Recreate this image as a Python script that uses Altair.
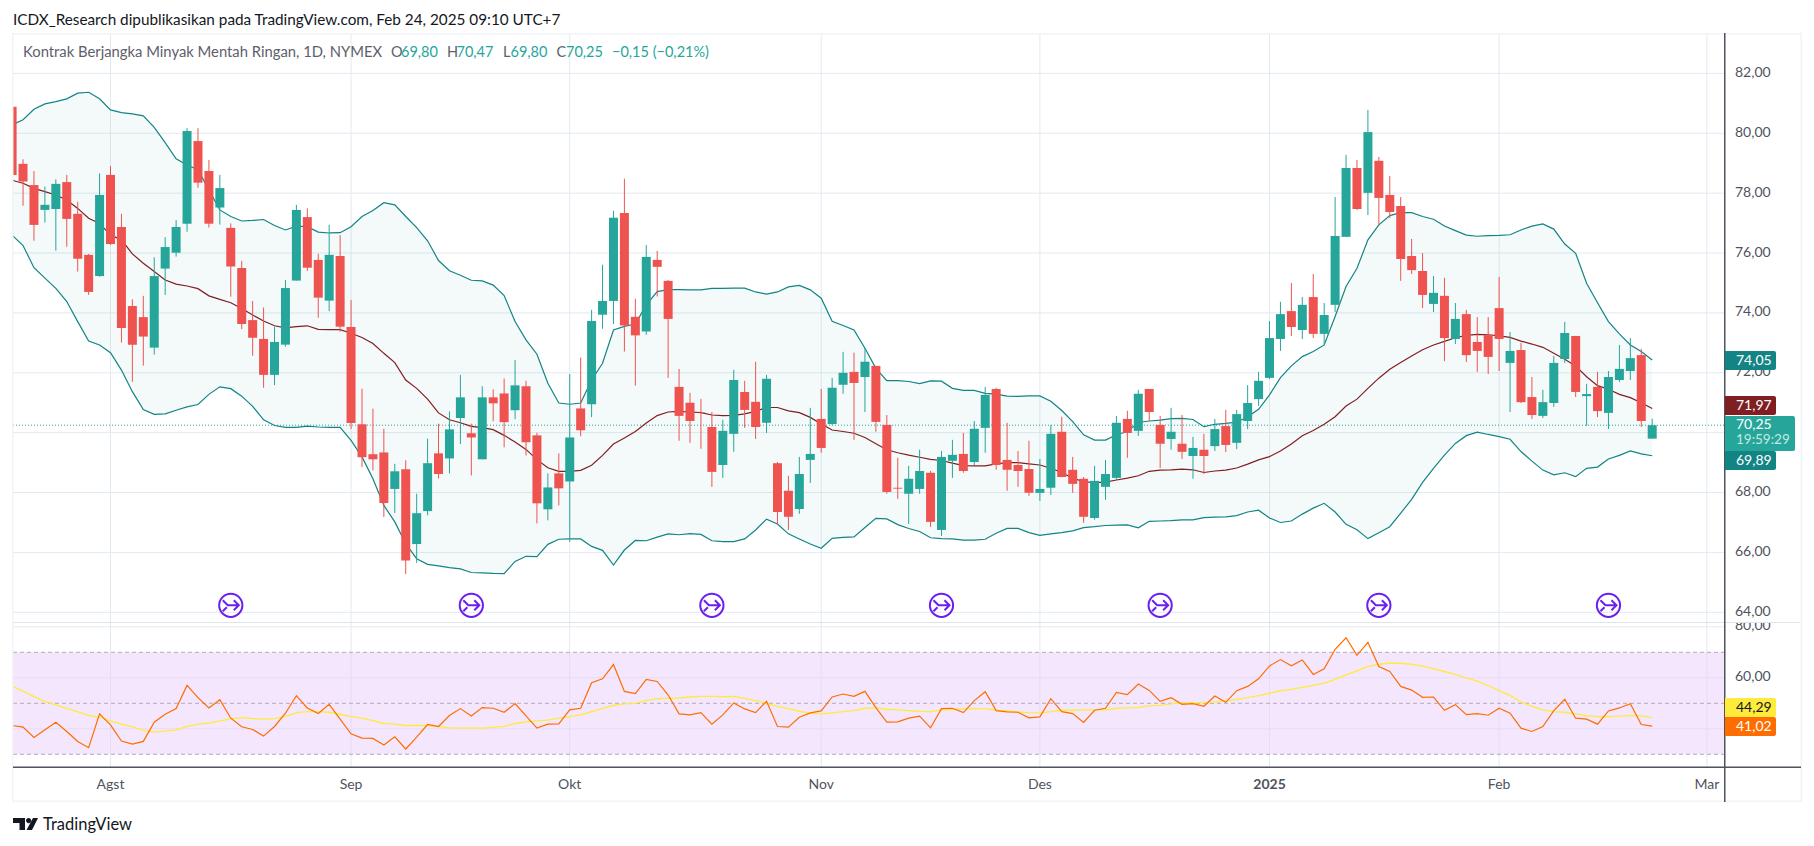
import altair as alt
import pandas as pd

open_prices = [80.89,78.98,78.27,77.44,77.47,78.37,77.31,75.94,75.23,78.61,
 76.87,74.23,73.86,72.84,75.48,76.01,76.98,79.74,78.74,77.52,
 76.84,75.50,73.76,73.13,71.93,72.94,75.08,77.20,75.77,74.41,
 75.90,73.53,70.28,69.28,69.34,68.12,68.78,66.28,67.38,69.31,
 69.14,70.49,69.98,69.11,71.18,71.31,70.75,71.55,69.91,67.44,
 68.64,68.37,70.81,70.95,73.94,74.40,77.34,73.87,73.38,75.77,
 75.07,71.53,71.00,70.68,70.19,68.92,69.96,71.36,71.03,70.33,
 68.98,68.06,67.45,69.09,70.46,70.29,71.60,72.03,71.86,72.23,
 70.26,68.16,67.96,68.12,68.66,66.75,69.06,69.29,69.02,70.16,
 71.46,69.09,68.92,68.79,67.99,68.16,70.03,68.76,68.46,67.15,
 68.19,68.49,70.46,70.06,71.46,70.26,69.79,69.63,69.22,69.43,
 69.55,70.22,69.66,70.39,71.12,71.83,73.13,74.06,73.43,74.53,
 73.30,74.27,76.54,78.84,78.01,79.08,77.94,77.57,75.90,75.40,
 74.30,74.57,73.13,73.96,73.03,73.26,74.16,72.33,72.76,71.19,
 70.56,70.99,72.46,73.23,71.22,71.53,70.66,71.76,72.06,72.59,69.80]
close_prices = [78.61,78.39,76.94,77.61,78.31,77.14,75.81,74.70,77.94,76.30,
 73.50,72.94,73.21,75.23,76.20,76.87,80.08,78.35,76.98,78.17,
 75.55,73.63,73.17,71.93,73.03,74.83,77.44,75.51,74.51,75.94,
 73.54,70.32,69.18,69.11,67.65,68.71,65.73,67.31,68.98,68.62,
 70.11,71.18,69.84,71.18,70.98,70.35,71.58,69.68,67.64,68.17,
 68.14,69.84,70.08,73.73,74.40,77.18,73.58,73.25,75.87,75.54,
 73.80,70.56,70.39,70.67,68.69,70.06,71.76,70.76,70.19,71.80,
 67.35,67.19,68.62,69.29,69.49,71.50,72.00,71.66,72.37,70.36,
 68.02,68.13,68.46,68.72,67.02,69.19,69.26,68.72,70.13,71.26,
 68.92,68.76,68.72,67.99,68.12,69.96,68.52,68.29,67.19,68.39,
 68.62,70.33,69.99,71.30,70.69,69.63,70.03,69.36,69.49,69.22,
 70.12,69.59,70.62,70.99,71.73,73.16,73.96,73.53,74.27,73.30,
 73.93,76.57,78.84,77.47,80.04,77.84,77.37,75.80,75.43,74.60,
 74.67,73.16,73.80,72.59,72.73,72.53,73.13,72.73,71.02,70.59,
 71.02,72.33,73.33,71.36,71.29,70.72,71.86,72.13,72.49,70.39,70.25]
high_prices = [80.89,79.13,78.74,78.22,78.46,78.61,77.71,75.97,78.66,78.91,
 77.31,74.45,74.57,75.86,76.53,77.10,80.17,80.17,79.11,78.61,
 76.99,75.74,74.40,74.18,73.54,75.10,77.61,77.49,75.97,76.94,
 76.60,74.43,71.47,70.80,70.13,68.96,69.08,67.96,69.80,70.30,
 70.71,71.93,70.30,71.55,71.45,71.81,72.43,71.73,70.00,68.64,
 69.31,71.96,72.51,74.10,75.61,77.41,78.48,74.47,76.27,76.07,
 75.10,72.13,71.33,71.13,70.69,70.43,72.10,71.73,72.37,71.93,
 69.02,68.56,69.19,70.83,71.46,71.83,72.70,72.67,72.83,72.23,
 70.59,69.16,68.89,69.43,68.72,69.39,69.76,69.99,70.39,71.53,
 71.50,70.33,69.39,69.73,69.12,70.26,70.53,69.19,68.52,68.89,
 69.09,70.56,70.73,71.43,71.46,70.56,70.83,70.59,69.86,69.96,
 70.46,70.76,70.76,71.59,72.03,73.73,74.37,75.00,74.53,75.30,
 74.33,77.87,79.28,79.11,80.78,79.21,78.57,77.87,76.47,76.00,
 75.23,75.17,74.33,74.10,73.86,73.86,75.20,73.36,73.00,71.86,
 71.43,72.56,73.70,73.23,71.63,72.03,72.06,72.93,73.16,72.80,70.47]
low_prices = [78.61,77.58,76.41,77.02,76.08,76.21,75.38,74.60,75.21,76.27,
 73.01,71.70,72.24,72.61,74.60,75.88,76.71,78.18,76.85,76.95,
 74.54,73.46,72.57,71.50,71.59,72.87,75.08,75.40,73.84,74.06,
 73.37,70.12,68.85,68.74,67.18,67.32,65.28,65.65,67.24,68.47,
 68.64,69.62,68.57,69.11,70.38,69.51,70.45,69.24,66.97,67.07,
 67.57,66.35,69.88,70.52,73.47,73.63,72.71,71.57,73.27,74.55,
 71.83,69.73,69.66,69.46,68.19,68.49,69.36,70.16,69.79,69.99,
 66.95,66.75,67.29,68.32,69.33,70.26,71.30,69.76,70.69,70.03,
 67.96,67.79,66.95,67.96,66.85,66.55,68.49,68.66,68.92,69.33,
 68.76,68.06,68.19,67.89,67.72,67.92,68.52,67.99,66.99,67.09,
 67.76,68.42,69.16,69.89,70.39,68.82,69.43,69.12,68.46,68.62,
 69.39,69.35,69.45,70.12,70.89,71.79,72.73,73.23,73.13,73.16,
 72.96,74.03,76.54,77.44,77.27,76.94,77.17,75.07,75.30,74.16,
 74.03,72.39,72.96,72.36,72.03,71.96,72.06,70.69,70.99,70.46,
 70.49,70.86,72.33,71.19,70.23,70.52,70.12,71.69,71.76,70.19,69.80]

bb_upper = [80.28,80.45,80.80,80.98,81.06,81.15,81.34,81.37,81.15,80.78,
 80.69,80.65,80.58,80.20,79.69,79.15,78.94,78.78,78.11,77.44,
 77.22,77.07,77.09,77.12,76.92,76.77,76.90,76.88,76.70,76.67,
 76.68,76.88,77.22,77.42,77.68,77.61,77.22,76.85,76.41,75.75,
 75.41,75.26,75.09,75.07,74.93,74.58,73.71,73.10,72.62,71.65,
 70.99,70.95,70.99,71.76,72.32,73.43,73.55,73.63,74.27,74.71,
 74.78,74.78,74.77,74.77,74.82,74.82,74.83,74.83,74.70,74.63,
 74.70,74.87,74.92,74.77,74.49,73.72,73.58,73.43,72.82,72.15,
 71.74,71.74,71.71,71.64,71.73,71.72,71.48,71.41,71.41,71.31,
 71.29,71.22,71.21,71.23,71.23,71.05,70.74,70.37,69.93,69.75,
 69.75,69.93,70.04,70.34,70.39,70.42,70.47,70.48,70.44,70.20,
 70.28,70.31,70.35,70.53,70.78,71.26,71.84,72.23,72.54,72.71,
 72.93,73.88,74.88,75.49,76.44,76.94,77.25,77.35,77.35,77.22,
 77.13,76.90,76.75,76.60,76.56,76.58,76.59,76.61,76.77,76.90,
 76.97,76.80,76.30,75.99,74.99,74.34,73.71,73.30,72.93,72.71,72.43]
bb_middle = [78.43,78.33,78.16,78.05,77.94,77.77,77.49,77.16,76.99,76.60,
 76.44,75.97,75.66,75.38,75.10,74.96,74.90,74.81,74.57,74.45,
 74.34,74.15,73.93,73.73,73.57,73.50,73.54,73.57,73.45,73.44,
 73.44,73.32,73.18,72.98,72.65,72.34,71.76,71.48,71.12,70.66,
 70.43,70.33,70.21,70.17,70.10,69.91,69.69,69.44,69.10,68.83,
 68.71,68.71,68.74,68.91,69.24,69.62,69.82,70.04,70.32,70.57,
 70.69,70.71,70.69,70.67,70.59,70.57,70.58,70.63,70.71,70.84,
 70.84,70.73,70.67,70.51,70.29,70.09,70.04,69.98,69.84,69.63,
 69.43,69.33,69.25,69.18,69.11,69.07,68.98,68.90,68.89,68.89,
 68.96,69.00,69.00,68.96,68.92,68.81,68.67,68.48,68.36,68.33,
 68.35,68.42,68.48,68.56,68.71,68.75,68.76,68.78,68.76,68.67,
 68.72,68.75,68.82,68.95,69.09,69.20,69.39,69.62,69.90,70.07,
 70.28,70.53,70.89,71.12,71.48,71.82,72.12,72.34,72.56,72.77,
 72.93,73.05,73.17,73.25,73.28,73.27,73.23,73.18,73.06,72.96,
 72.85,72.65,72.45,72.23,71.87,71.57,71.45,71.28,71.17,71.00,70.81]
bb_lower = [76.60,76.25,75.51,75.16,74.82,74.38,73.71,73.06,72.93,72.67,
 72.09,71.37,70.77,70.61,70.63,70.75,70.86,70.94,71.28,71.53,
 71.47,71.22,70.88,70.43,70.24,70.18,70.18,70.22,70.19,70.18,
 70.18,69.74,69.19,68.46,67.57,67.02,66.29,65.79,65.60,65.55,
 65.49,65.45,65.33,65.32,65.30,65.29,65.70,65.87,65.86,66.27,
 66.44,66.45,66.45,66.20,66.07,65.58,66.08,66.40,66.39,66.51,
 66.62,66.59,66.63,66.60,66.39,66.36,66.36,66.45,66.75,67.11,
 66.95,66.62,66.45,66.28,66.14,66.47,66.50,66.52,66.83,67.14,
 67.12,66.93,66.80,66.70,66.49,66.46,66.45,66.41,66.41,66.44,
 66.64,66.80,66.80,66.66,66.57,66.62,66.66,66.72,66.83,66.86,
 66.90,66.91,66.92,66.82,67.04,67.05,67.06,67.09,67.09,67.16,
 67.18,67.19,67.23,67.35,67.41,67.15,67.00,67.05,67.28,67.48,
 67.64,67.35,66.94,66.76,66.46,66.66,66.86,67.31,67.77,68.34,
 68.81,69.25,69.64,69.90,70.02,69.94,69.87,69.78,69.37,69.05,
 68.75,68.59,68.66,68.53,68.81,68.85,69.12,69.24,69.39,69.29,69.23]

rsi_values = [41.30,40.65,36.62,39.61,42.60,38.96,35.06,32.60,45.84,41.56,
 35.19,34.03,35.06,42.60,45.71,47.92,57.01,52.21,48.18,51.43,
 44.16,40.78,39.74,37.14,40.91,46.10,52.99,48.18,45.97,49.61,
 43.77,38.05,36.36,36.23,33.64,36.88,32.08,36.75,41.69,40.91,
 45.19,47.92,45.06,48.31,48.05,46.49,49.87,45.06,40.26,41.82,
 41.95,47.40,48.05,58.05,59.61,65.19,54.68,53.77,59.35,58.57,
 53.25,45.84,45.45,46.36,41.82,45.45,50.13,47.79,46.36,50.78,
 40.91,40.65,44.55,46.23,47.01,52.47,53.64,52.73,54.68,48.31,
 42.60,42.73,44.16,44.94,40.39,47.92,48.05,46.36,51.04,54.55,
 47.14,46.62,46.49,44.29,44.68,51.82,46.75,45.97,42.47,47.27,
 48.05,54.29,53.38,57.53,55.06,50.78,52.21,49.61,49.87,48.83,
 52.86,50.39,54.94,56.62,59.61,64.68,67.14,64.68,67.01,61.30,
 63.51,71.17,75.71,68.83,73.90,64.42,62.47,56.62,55.19,52.34,
 52.47,47.27,49.48,45.58,45.97,45.32,48.05,46.10,40.26,38.96,
 40.91,47.14,51.56,44.16,43.77,41.82,47.01,48.18,49.87,41.69,41.02]
rsi_ma = [56.75,54.81,52.60,50.65,49.35,48.05,46.75,45.19,44.55,43.12,
 41.82,40.78,39.35,38.70,39.09,39.61,40.91,41.82,42.21,43.12,
 43.90,44.42,44.03,43.77,44.03,44.81,46.36,46.75,46.75,46.49,
 45.71,44.81,44.16,43.25,42.08,41.82,41.30,41.30,41.30,40.91,
 40.39,40.26,40.26,40.26,40.52,40.91,42.08,42.73,43.12,43.38,
 44.16,44.81,45.45,46.75,48.05,49.22,49.74,50.00,51.04,51.82,
 51.95,52.08,52.47,52.73,52.73,52.60,52.73,51.95,51.04,50.00,
 48.83,47.92,46.88,46.10,45.84,46.23,46.75,47.14,48.05,48.18,
 47.66,47.40,47.14,46.88,46.75,47.40,47.53,47.79,47.92,47.92,
 47.27,47.01,46.62,46.36,46.23,46.75,47.27,47.27,47.40,47.40,
 47.40,48.05,48.18,48.44,48.96,49.22,49.74,50.13,50.26,50.26,
 50.52,50.91,51.56,52.21,52.99,53.90,54.94,55.45,56.23,57.01,
 57.92,59.35,61.17,62.73,64.42,65.32,65.71,65.71,65.32,64.55,
 63.51,62.47,61.30,60.00,58.70,56.88,54.94,53.12,50.52,48.83,
 47.40,46.75,46.49,45.84,45.19,44.81,44.81,44.94,45.19,45.06,44.42]

price_ticks = [64, 66, 68, 70, 72, 74, 76, 78, 80, 82]
price_labels = ["64,00", "66,00", "68,00", "70,00", "72,00", "74,00", "76,00", "78,00", "80,00", "82,00"]
rsi_grid = [80, 60, 40]
rsi_grid_labels = ["80,00", "60,00"]
rsi_bands = [70, 50, 30]
month_index = [9, 31, 51, 74, 94, 115, 136, 155]
month_labels = ["Agst", "Sep", "Okt", "Nov", "Des", "2025", "Feb", "Mar"]
event_index = [20, 42, 64, 85, 105, 125, 146]
last_close = [70.25]

FONT = "Lato"
GREEN, RED = "#26a69a", "#ef5350"
BAND, MID = "#138484", "#801f22"
GRID = "#e2eaf1"
TXT = "#50535e"

n = len(close_prices)
for s in (open_prices, high_prices, low_prices, bb_upper, bb_middle, bb_lower, rsi_values, rsi_ma):
    assert len(s) == n, len(s)

df = pd.DataFrame({
    "i": range(n), "o": open_prices, "h": high_prices, "l": low_prices, "c": close_prices,
    "up": bb_upper, "mid": bb_middle, "lo": bb_lower, "rsi": rsi_values, "ma": rsi_ma,
})
df["dir"] = ["up" if c >= o else "down" for o, c in zip(open_prices, close_prices)]
one = pd.DataFrame({"k": [1]})

# page px = chart px + 8
X0, XS = 12.1 - 8, 10.934
x_scale = alt.Scale(domain=[0, 155], range=[X0, X0 + 155 * XS], nice=False, zero=False, padding=0)
p_scale = alt.Scale(domain=[64, 82], range=[612.3 - 8, 73.4 - 8], nice=False, zero=False)
r_scale = alt.Scale(domain=[30, 80], range=[754.3 - 8, 626.8 - 8], nice=False, zero=False)
X = lambda f: alt.X(f, type="quantitative", scale=x_scale, axis=None)
PY = lambda f: alt.Y(f, type="quantitative", scale=p_scale, axis=None)
RY = lambda f: alt.Y(f, type="quantitative", scale=r_scale, axis=None)
L, R, T, B, F = 5, 1717, 25, 759, 1793  # plot left/right/top/bottom, frame right (chart px)


def box(x0, x1, y0, y1, color, **kw):
    return alt.Chart(one).mark_rect(color=color, **kw).encode(
        x=alt.value(x0 - 8), x2=alt.value(x1 - 8), y=alt.value(y0 - 8), y2=alt.value(y1 - 8))


def txt(s, x, y, color=TXT, size=14, align="left", weight="normal", font=FONT):
    return alt.Chart(one).mark_text(text=s, align=align, baseline="middle", font=font, fontSize=size,
                                    color=color, fontWeight=weight).encode(
        x=alt.value(x - 8), y=alt.value(y - 8))


layers = []
# grid
layers.append(alt.Chart(pd.DataFrame({"v": price_ticks})).mark_rule(color=GRID, strokeWidth=1).encode(
    x=alt.value(L), x2=alt.value(R), y=PY("v")))
layers.append(alt.Chart(pd.DataFrame({"v": rsi_grid})).mark_rule(color=GRID, strokeWidth=1).encode(
    x=alt.value(L), x2=alt.value(R), y=RY("v")))
layers.append(alt.Chart(pd.DataFrame({"i": month_index})).mark_rule(color=GRID, strokeWidth=1).encode(
    x=X("i"), y=alt.value(T), y2=alt.value(B)))
layers.append(box(13, 1725, 622, 623, "#dfe3ea"))
# RSI background and bands
layers.append(alt.Chart(pd.DataFrame({"a": [70], "b": [30]})).mark_rect(color="#e9cdfb", opacity=0.5).encode(
    x=alt.value(L), x2=alt.value(R), y=RY("a"), y2=alt.Y2("b")))
layers.append(alt.Chart(pd.DataFrame({"v": rsi_bands})).mark_rule(color="#b6a9b8", strokeWidth=1, strokeDash=[4, 3]).encode(
    x=alt.value(L), x2=alt.value(R), y=RY("v")))
# Bollinger
base = alt.Chart(df)
layers.append(base.mark_area(color=GREEN, opacity=0.05).encode(x=X("i"), y=PY("up"), y2=alt.Y2("lo")))
layers.append(alt.Chart(pd.DataFrame({"v": last_close})).mark_rule(color=GREEN, strokeWidth=1, strokeDash=[1, 2]).encode(
    x=alt.value(L), x2=alt.value(R), y=PY("v")))
for f, col in (("up", BAND), ("lo", BAND), ("mid", MID)):
    layers.append(base.mark_line(color=col, strokeWidth=1.2).encode(x=X("i"), y=PY(f)))
# candles
color = alt.Color("dir:N", scale=alt.Scale(domain=["up", "down"], range=[GREEN, RED]), legend=None)
layers.append(base.mark_rule(strokeWidth=1).encode(x=X("i"), y=PY("h"), y2=alt.Y2("l"), color=color))
layers.append(base.mark_bar(size=9, orient="vertical").encode(x=X("i"), y=PY("o"), y2=alt.Y2("c"), color=color))
# RSI lines
layers.append(base.mark_line(color="#ffeb3b", strokeWidth=1.3).encode(x=X("i"), y=RY("ma")))
layers.append(base.mark_line(color="#ff6d00", strokeWidth=1.2).encode(x=X("i"), y=RY("rsi")))
# events
ev = alt.Chart(pd.DataFrame({"i": event_index}))
layers.append(ev.mark_point(shape="circle", filled=False, size=540, stroke="#6b1ff0", strokeWidth=2, opacity=1).encode(
    x=X("i"), y=alt.value(605.3 - 8)))
arrow = "M-8,-5 L-3,0 L8,0 M3,-5 L8,0 L3,5 M-8,6 L-4,2"
layers.append(ev.mark_point(shape=arrow, filled=False, size=4, stroke="#6b1ff0", strokeWidth=2, opacity=1).encode(
    x=X("i"), y=alt.value(605.3 - 8)))
# clip first candle and frame
layers.append(box(0, 13, 30, 802, "white"))
layers.append(box(1726, 1801, 33, 767, "white"))
layers.append(box(12, 13.5, 33, 802, "#f2f3f5"))
layers.append(box(12, 1802, 33, 34.5, "#f2f3f5"))
layers.append(box(12, 1802, 800.5, 802, "#f2f3f5"))
layers.append(box(1800.5, 1802, 33, 802, "#f2f3f5"))
# RSI 80 label clipped by pane edge
layers.append(alt.Chart(pd.DataFrame({"v": [80, 60], "t": rsi_grid_labels})).mark_text(
    align="left", baseline="middle", font=FONT, fontSize=14, color=TXT, dy=-0.5).encode(
    x=alt.value(1735 - 8), y=RY("v"), text="t:N"))
layers.append(box(1726, 1800, 600, 622, "white"))
layers.append(box(1725, 1800, 622, 623, "#dfe3ea"))
layers.append(alt.Chart(pd.DataFrame({"v": price_ticks, "t": price_labels})).mark_text(
    align="left", baseline="middle", font=FONT, fontSize=14, color=TXT, dy=-0.5).encode(
    x=alt.value(1735 - 8), y=PY("v"), text="t:N"))
# axes
layers.append(box(1724, 1725.5, 33, 802, "#50535e"))
layers.append(box(13, 1801, 766.5, 768, "#50535e"))
# month labels
lab_df = pd.DataFrame({"i": month_index, "t": month_labels})
layers.append(alt.Chart(lab_df[lab_df.t != "2025"]).mark_text(
    align="center", baseline="middle", font=FONT, fontSize=14, color=TXT).encode(
    x=X("i"), y=alt.value(785 - 8), text="t:N"))
layers.append(alt.Chart(lab_df[lab_df.t == "2025"]).mark_text(
    align="center", baseline="middle", font=FONT, fontSize=14, color=TXT, fontWeight="bold").encode(
    x=X("i"), y=alt.value(785 - 8), text="t:N"))
# price tags
for y0, y1, x1, col in ((351, 370, 1776, "#138484"), (396, 415, 1776, "#801f22"), (451, 470, 1776, "#138484"),
                        (416, 451, 1795, GREEN), (698, 717, 1776, "#ffeb3b"), (717, 736, 1776, "#ff6d00")):
    layers.append(box(1725, x1, y0, y1, col, cornerRadiusTopRight=2, cornerRadiusBottomRight=2))
for s, y, col in (("74,05", 360.5, "white"), ("71,97", 405.5, "white"), ("70,25", 424.5, "white"),
                  ("69,89", 460.5, "white"), ("44,29", 707.5, "#131722"), ("41,02", 726.5, "white")):
    layers.append(txt(s, 1736, y, col))
layers.append(txt("19:59:29", 1736, 440, "#c4e9e4", 13.5))
# heading
layers.append(txt("ICDX_Research dipublikasikan pada TradingView.com, Feb 24, 2025 09:10 UTC+7", 13, 20, "#131722", 15.3))
layers.append(txt("Kontrak Berjangka Minyak Mentah Ringan, 1D, NYMEX", 23, 53, "#5d606b", 14.8))
for s, x, col in (("O", 391, "#5d606b"), ("69,80", 401, GREEN), ("H", 447, "#5d606b"), ("70,47", 456.5, GREEN),
                  ("L", 503, "#5d606b"), ("69,80", 510.5, GREEN), ("C", 556.5, "#5d606b"), ("70,25", 566, GREEN),
                  ("\u22120,15 (\u22120,21%)", 612, GREEN)):
    layers.append(txt(s, x, 53, col, 14.5))
# logo
logo = ("M0,0 L12,0 L12,12 L6.5,12 L6.5,5 L0,5 Z M20,0 L25,0 L19,12 L13.5,12 Z "
        "M13,2.6 A2.6,2.6 0 1 0 18.2,2.6 A2.6,2.6 0 1 0 13,2.6 Z")
layers.append(alt.Chart(one).mark_point(shape=logo, filled=True, size=4, color="#131722", opacity=1).encode(
    x=alt.value(13 - 8), y=alt.value(818 - 8)))
layers.append(txt("TradingView", 43, 825, "#131722", 16.5))

chart = alt.layer(*layers).resolve_scale(y="independent").properties(
    width=1798, height=830, padding=0, autosize=alt.AutoSizeParams(type="none"),
).configure_view(stroke=None)

chart.save("out.html", embed_options={"renderer": "svg", "actions": False})
